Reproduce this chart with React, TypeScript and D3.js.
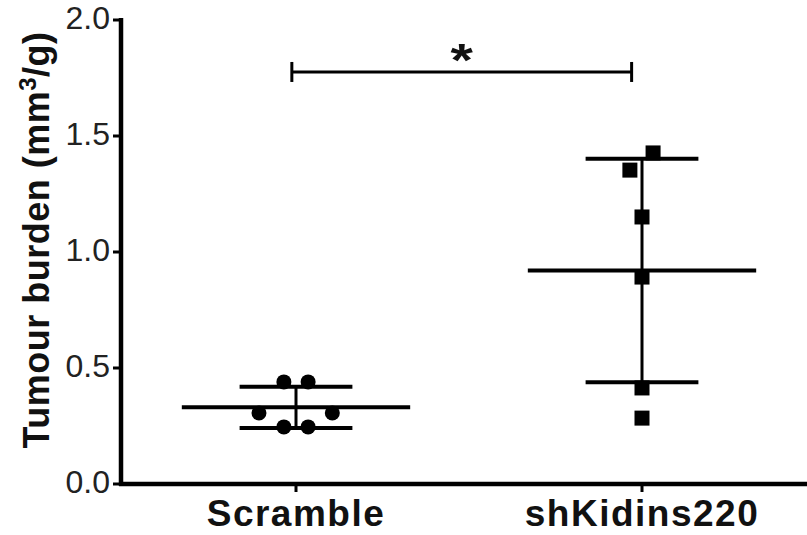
import React from "react";
import * as d3 from "d3";

const categories = ["Scramble", "shKidins220"];
const scrambleValues = [0.44, 0.44, 0.306, 0.306, 0.246, 0.246];
const scrambleJitter = [-0.035, 0.035, -0.107, 0.105, -0.035, 0.035];
const shKidinsValues = [1.427, 1.353, 1.151, 0.892, 0.414, 0.284];
const shKidinsJitter = [0.032, -0.035, 0, 0, 0, 0];
const yTicks = [0, 0.5, 1, 1.5, 2];
const bracketValue = 1.776;
const bracketLabel = "*";

const width = 807;
const height = 535;
const axisX = 121;
const font = "'Liberation Sans', Arial, sans-serif";

const App = () => {
  var x = d3.scaleBand().domain(categories).range([123, 815]);
  var y = d3.scaleLinear().domain([0, 2]).range([484, 20]);
  var bw = x.bandwidth();
  const cx = (c: string) => (x(c) as number) + bw / 2;

  const groups = [
    { name: categories[0], values: scrambleValues, jitter: scrambleJitter, shape: "circle" },
    { name: categories[1], values: shKidinsValues, jitter: shKidinsJitter, shape: "square" },
  ];

  // bracket ends sit a little left of the group centres in the original
  const bx1 = cx(categories[0]) - 0.012 * bw;
  const bx2 = cx(categories[1]) - 0.03 * bw;

  return (
    <svg
      width={width}
      height={height}
      style={{ position: "absolute", left: 0, top: 0, background: "#fff" }}
    >
      {/* y axis */}
      <line x1={axisX} x2={axisX} y1={y(2) - 2} y2={y(0) + 2} stroke="#000" strokeWidth={4.5} />
      {yTicks.map((t) => (
        <g key={t}>
          <line x1={axisX - 8} x2={axisX} y1={y(t)} y2={y(t)} stroke="#000" strokeWidth={3} />
          <text
            x={110}
            y={y(t) + 9}
            textAnchor="end"
            fontFamily={font}
            fontSize={32}
            fill="#222"
          >
            {d3.format(".1f")(t)}
          </text>
        </g>
      ))}
      <text
        transform={`translate(49,240) rotate(-90)`}
        textAnchor="middle"
        fontFamily={font}
        fontSize={36}
        fontWeight="bold"
        letterSpacing={0.5}
        fill="#111"
      >
        Tumour burden (mm
        <tspan fontSize={24} dy={-13}>3</tspan>
        <tspan dy={13}>/g)</tspan>
      </text>

      {/* x axis */}
      <line x1={axisX - 2} x2={width} y1={y(0)} y2={y(0)} stroke="#000" strokeWidth={4.5} />
      {categories.map((c) => (
        <g key={c}>
          <line x1={cx(c)} x2={cx(c)} y1={y(0)} y2={y(0) + 8} stroke="#000" strokeWidth={3} />
          <text
            x={cx(c)}
            y={526}
            textAnchor="middle"
            fontFamily={font}
            fontSize={37}
            fontWeight="bold"
            letterSpacing={1.5}
            fill="#111"
          >
            {c}
          </text>
        </g>
      ))}

      {/* points, mean and SD */}
      {groups.map((g) => {
        const c = cx(g.name);
        const mean = d3.mean(g.values) as number;
        const sd = d3.deviation(g.values) as number;
        return (
          <g key={g.name}>
            {g.values.map((v, i) =>
              g.shape === "circle" ? (
                <circle key={i} cx={c + g.jitter[i] * bw} cy={y(v)} r={7.5} fill="#000" />
              ) : (
                <rect
                  key={i}
                  x={c + g.jitter[i] * bw - 7.5}
                  y={y(v) - 7.5}
                  width={15}
                  height={15}
                  fill="#000"
                />
              )
            )}
            <line x1={c} x2={c} y1={y(mean + sd)} y2={y(mean - sd)} stroke="#000" strokeWidth={3} />
            <line x1={c - 0.163 * bw} x2={c + 0.163 * bw} y1={y(mean + sd)} y2={y(mean + sd)} stroke="#000" strokeWidth={4} />
            <line x1={c - 0.163 * bw} x2={c + 0.163 * bw} y1={y(mean - sd)} y2={y(mean - sd)} stroke="#000" strokeWidth={4} />
            <line x1={c - 0.33 * bw} x2={c + 0.33 * bw} y1={y(mean)} y2={y(mean)} stroke="#000" strokeWidth={4} />
          </g>
        );
      })}

      {/* significance bracket */}
      <line x1={bx1} x2={bx2} y1={y(bracketValue)} y2={y(bracketValue)} stroke="#000" strokeWidth={3} />
      <line x1={bx1} x2={bx1} y1={y(bracketValue) - 10} y2={y(bracketValue) + 10} stroke="#000" strokeWidth={3} />
      <line x1={bx2} x2={bx2} y1={y(bracketValue) - 10} y2={y(bracketValue) + 10} stroke="#000" strokeWidth={3} />
      <text
        transform={`translate(${(bx1 + bx2) / 2},76) scale(1.25,1)`}
        textAnchor="middle"
        fontFamily={font}
        fontSize={46}
        fontWeight="bold"
        fill="#111"
      >
        {bracketLabel}
      </text>
    </svg>
  );
};

export default App;
